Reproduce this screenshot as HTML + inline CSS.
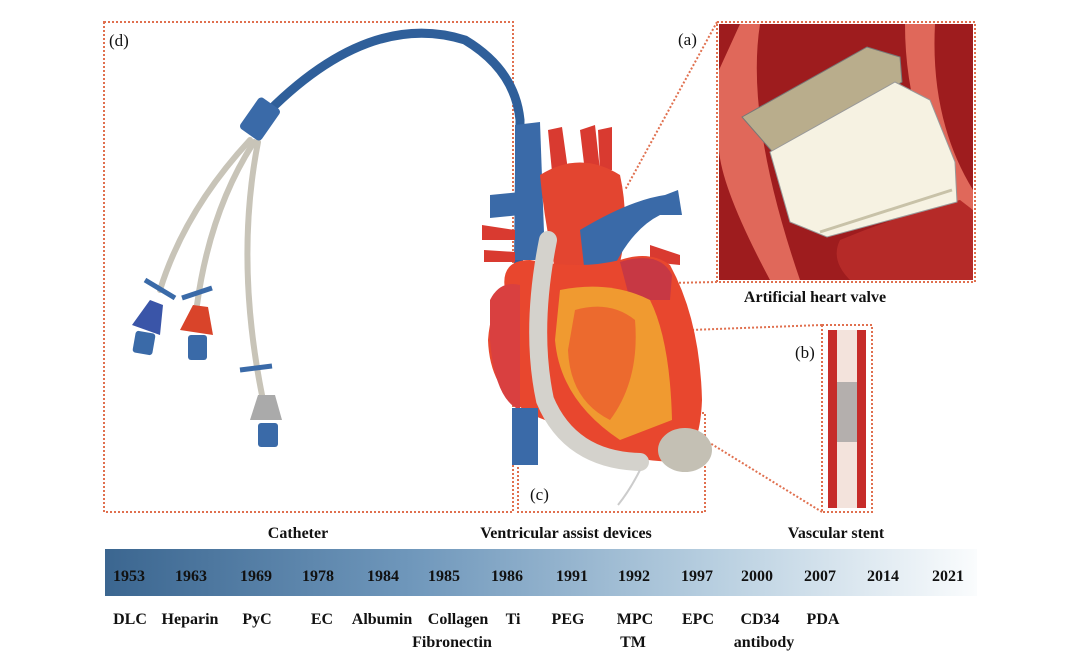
<!DOCTYPE html>
<html><head><style>
body{margin:0;background:#fff;}
svg{display:block;font-family:"Liberation Serif",serif;}
</style></head><body>
<svg width="1080" height="660" viewBox="0 0 1080 660" xmlns="http://www.w3.org/2000/svg">
<defs>
<linearGradient id="bar" x1="0" x2="1">
<stop offset="0" stop-color="#3b6690"/><stop offset="0.35" stop-color="#6f97bb"/><stop offset="0.7" stop-color="#b8cfe0"/><stop offset="1" stop-color="#fafcfd"/>
</linearGradient>
</defs>
<!-- dotted boxes -->
<g fill="none" stroke="#e0704f" stroke-width="2" stroke-dasharray="2 2">
<rect x="104" y="22" width="409" height="490"/>
<rect x="518" y="413" width="187" height="99"/>
<rect x="717" y="22" width="258" height="260"/>
<rect x="822" y="325" width="50" height="187"/>
<line x1="717" y1="22" x2="625" y2="190"/>
<line x1="717" y1="282" x2="670" y2="283"/>
<line x1="822" y1="325" x2="690" y2="330"/>
<line x1="822" y1="512" x2="705" y2="440"/>
</g>
<!-- valve panel -->
<rect x="719" y="24" width="254" height="256" fill="#9e1c1e"/>
<path d="M719 70 L740 24 L760 24 Q745 120 800 280 L770 280 Q722 190 719 150Z" fill="#e0685a"/>
<path d="M905 24 L935 24 Q930 120 973 190 L973 225 Q905 140 905 24Z" fill="#e0685a"/>
<path d="M840 240 Q900 215 960 200 L973 210 L973 280 L850 280 Q830 260 840 240Z" fill="#b52a28"/>
<path d="M742 117 L867 47 L900 57 L902 82 L777 157 Z" fill="#b9ad8c" stroke="#777" stroke-width="1"/>
<path d="M770 152 L895 82 L930 100 L955 162 L957 202 L827 237 L790 222 Z" fill="#f6f2e2" stroke="#999" stroke-width="1"/>
<path d="M820 232 L952 190" stroke="#c8c2a8" stroke-width="3"/>
<!-- catheter -->
<g fill="none" stroke-linecap="round">
<path d="M268 112 Q370 10 465 40 Q515 70 520 120 L518 318" stroke="#2f5f9a" stroke-width="9"/>
<path d="M250 140 Q185 210 160 290" stroke="#c8c4b8" stroke-width="6"/>
<path d="M254 142 Q210 210 197 305" stroke="#c8c4b8" stroke-width="6"/>
<path d="M258 142 Q235 260 262 395" stroke="#c8c4b8" stroke-width="6"/>
</g>
<rect x="247" y="100" width="26" height="38" rx="4" fill="#3a6aa8" transform="rotate(35 260 119)"/>
<path d="M145 280 L175 298" stroke="#3a6aa8" stroke-width="5"/>
<path d="M182 298 L212 288" stroke="#3a6aa8" stroke-width="5"/>
<path d="M240 370 L272 366" stroke="#3a6aa8" stroke-width="5"/>
<path d="M132 325 L150 300 L163 305 L160 335 Z" fill="#3a55a8"/>
<rect x="134" y="332" width="20" height="22" rx="3" fill="#3a6aa8" transform="rotate(10 144 343)"/>
<path d="M180 330 L193 305 L208 307 L213 335 Z" fill="#d9442a"/>
<rect x="188" y="335" width="19" height="25" rx="3" fill="#3a6aa8"/>
<path d="M250 420 L258 395 L275 395 L282 420 Z" fill="#aaa"/>
<rect x="258" y="423" width="20" height="24" rx="3" fill="#3a6aa8"/>
<!-- heart -->
<path d="M515 125 L540 122 L545 260 L515 260 Z" fill="#3a6aa8"/>
<path d="M490 195 L520 192 L520 215 L490 218Z" fill="#3a6aa8"/>
<path d="M482 225 L515 230 L515 240 L482 240Z M484 250 L515 252 L515 262 L484 262Z" fill="#d93a30"/>
<path d="M548 130 L562 127 L568 170 L552 172Z M580 130 L595 125 L600 170 L585 172Z M598 130 L612 127 L612 170 L600 172Z" fill="#d93a30"/>
<path d="M540 175 Q580 150 620 175 Q632 230 615 280 L560 290 Q545 230 540 175Z" fill="#e34530"/>
<path d="M580 230 Q630 200 665 195 L678 190 L682 215 L660 215 Q630 230 610 275 L585 275Z" fill="#3a6aa8"/>
<path d="M650 245 L680 255 L680 265 L650 262Z" fill="#d93a30"/>
<path d="M505 290 Q500 260 530 260 Q580 270 620 260 Q650 250 670 265 Q700 320 702 400 Q700 455 675 462 Q600 460 545 420 Q490 400 488 340 Q490 310 505 290Z" fill="#e8472e"/>
<path d="M490 300 Q500 280 520 285 L520 410 Q495 400 490 340Z" fill="#d94040"/>
<path d="M620 262 Q660 250 672 275 L670 300 L630 300Z" fill="#c73844"/>
<path d="M560 290 Q610 280 650 300 Q670 340 672 420 L620 440 Q560 400 555 340Z" fill="#f09a30"/>
<path d="M575 310 Q610 300 635 320 Q640 380 610 420 Q570 400 568 350Z" fill="#ec6a2e"/>
<rect x="512" y="408" width="26" height="57" fill="#3a6aa8"/>
<path d="M548 240 Q530 330 545 400 Q570 460 640 462" fill="none" stroke="#d4d2cc" stroke-width="18" stroke-linecap="round"/>
<ellipse cx="685" cy="450" rx="27" ry="22" fill="#c4c0b4"/>
<path d="M640 470 Q630 490 618 505" fill="none" stroke="#ccc" stroke-width="2"/>
<!-- stent -->
<rect x="828" y="330" width="38" height="178" fill="#c62c2a"/>
<rect x="837" y="330" width="20" height="178" fill="#f3e3dc"/>
<rect x="837" y="382" width="20" height="60" fill="#999" opacity=".7"/>
<!-- labels -->
<g font-size="17" fill="#111">
<text x="109" y="46">(d)</text>
<text x="678" y="45">(a)</text>
<text x="795" y="358">(b)</text>
<text x="530" y="500">(c)</text>
</g>
<g font-size="16" font-weight="bold" fill="#111" text-anchor="middle">
<text x="815" y="302">Artificial heart valve</text>
<text x="298" y="538">Catheter</text>
<text x="566" y="538">Ventricular assist devices</text>
<text x="836" y="538">Vascular stent</text>
</g>
<rect x="105" y="549" width="872" height="47" fill="url(#bar)"/>
<g font-size="16" font-weight="bold" fill="#111" text-anchor="middle">
<text x="129" y="581">1953</text><text x="191" y="581">1963</text><text x="256" y="581">1969</text>
<text x="318" y="581">1978</text><text x="383" y="581">1984</text><text x="444" y="581">1985</text>
<text x="507" y="581">1986</text><text x="572" y="581">1991</text><text x="634" y="581">1992</text>
<text x="697" y="581">1997</text><text x="757" y="581">2000</text><text x="820" y="581">2007</text>
<text x="883" y="581">2014</text><text x="948" y="581">2021</text>
</g>
<g font-size="16" font-weight="bold" fill="#111" text-anchor="middle">
<text x="130" y="624">DLC</text><text x="190" y="624">Heparin</text><text x="257" y="624">PyC</text>
<text x="322" y="624">EC</text><text x="382" y="624">Albumin</text><text x="458" y="624">Collagen</text>
<text x="513" y="624">Ti</text><text x="568" y="624">PEG</text><text x="635" y="624">MPC</text>
<text x="698" y="624">EPC</text><text x="760" y="624">CD34</text><text x="823" y="624">PDA</text>
<text x="452" y="647">Fibronectin</text><text x="633" y="647">TM</text><text x="764" y="647">antibody</text>
</g>
</svg>
</body></html>
